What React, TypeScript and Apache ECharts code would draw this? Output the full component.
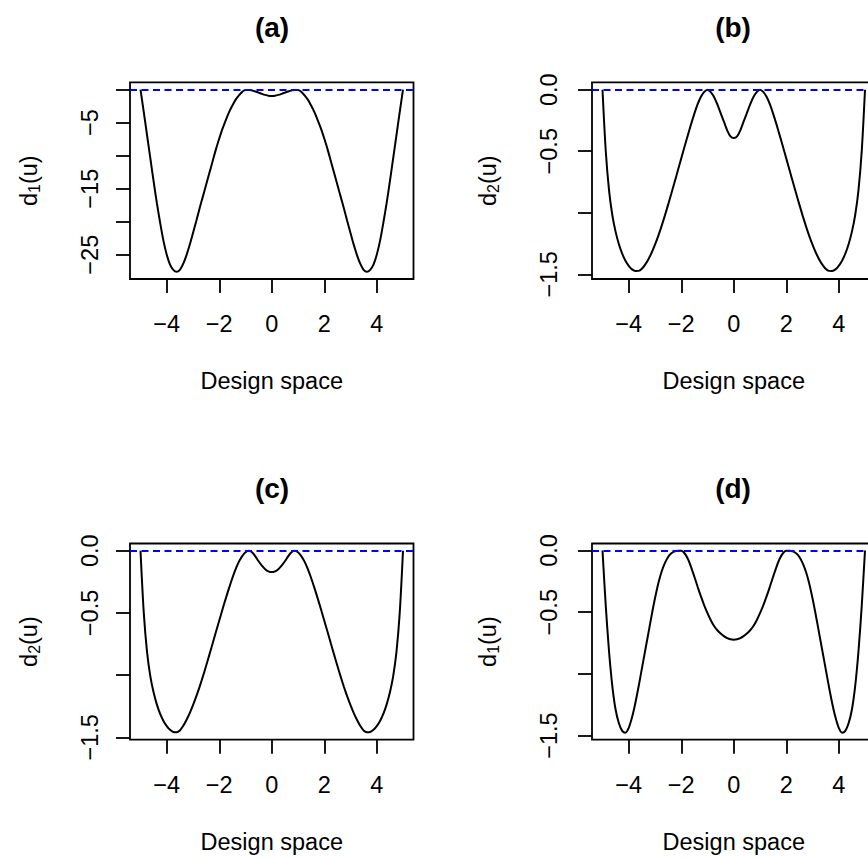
import React, { useEffect, useRef } from "react";
import * as echarts from "echarts";

const FONT = '"Liberation Sans", Arial, Helvetica, sans-serif';

// tick values and labels
const xTicks = [-4, -2, 0, 2, 4];
const yTicksA = [0, -5, -10, -15, -20, -25];
const yLabelsA = [-5, -15, -25];
const yTicksB = [0, -0.5, -1, -1.5];
const yLabelsB = [0, -0.5, -1.5];

const panelTitles = ["(a)", "(b)", "(c)", "(d)"];
const ySubscripts = ["1", "2", "2", "1"];
const xName = "Design space";

// design points u (shared by all panels)
const xs = [
  -5, -4.875, -4.75, -4.625, -4.5, -4.375, -4.25, -4.125, -4, -3.875, -3.75, -3.625, -3.5, -3.375, -3.25, -3.125, -3, -2.875, -2.75, -2.625,
  -2.5, -2.375, -2.25, -2.125, -2, -1.875, -1.75, -1.625, -1.5, -1.375, -1.25, -1.125, -1, -0.875, -0.75, -0.625, -0.5, -0.375, -0.25, -0.125,
  0,
  0.125, 0.25, 0.375, 0.5, 0.625, 0.75, 0.875, 1, 1.125, 1.25, 1.375, 1.5, 1.625, 1.75, 1.875, 2, 2.125, 2.25, 2.375, 2.5,
  2.625, 2.75, 2.875, 3, 3.125, 3.25, 3.375, 3.5, 3.625, 3.75, 3.875, 4, 4.125, 4.25, 4.375, 4.5, 4.625, 4.75, 4.875, 5,
];

// panel (a): d1(u)
const yA = [
  0, -3.4, -6.9, -10.4, -13.9, -17.2, -20.2, -22.9, -25.0, -26.5, -27.3, -27.6, -27.3, -26.4, -25.1, -23.5, -21.7, -19.9, -18.0, -16.2,
  -14.4, -12.6, -10.8, -9.0, -7.4, -5.9, -4.6, -3.4, -2.4, -1.5, -0.85, -0.33, -0.03, -0.03, -0.12, -0.27, -0.45, -0.63, -0.79, -0.91,
  -0.95,
  -0.91, -0.79, -0.63, -0.45, -0.27, -0.12, -0.03, -0.03, -0.33, -0.85, -1.5, -2.4, -3.4, -4.6, -5.9, -7.4, -9.0, -10.8, -12.6, -14.4,
  -16.2, -18.0, -19.9, -21.7, -23.5, -25.1, -26.4, -27.3, -27.6, -27.3, -26.5, -25.0, -22.9, -20.2, -17.2, -13.9, -10.4, -6.9, -3.4, 0,
];

// panel (b): d2(u)
const yB = [
  0, -0.5, -0.82, -1.02, -1.155, -1.255, -1.332, -1.39, -1.432, -1.46, -1.473, -1.472, -1.455, -1.421, -1.377, -1.323, -1.259, -1.187, -1.108, -1.023,
  -0.934, -0.842, -0.748, -0.653, -0.558, -0.464, -0.371, -0.28, -0.194, -0.118, -0.058, -0.018, 0, -0.02, -0.06, -0.12, -0.19, -0.26, -0.33, -0.38,
  -0.393,
  -0.38, -0.33, -0.26, -0.19, -0.12, -0.06, -0.02, 0, -0.018, -0.058, -0.118, -0.194, -0.28, -0.371, -0.464, -0.558, -0.653, -0.748, -0.842, -0.934,
  -1.023, -1.108, -1.187, -1.259, -1.323, -1.377, -1.421, -1.455, -1.472, -1.473, -1.46, -1.432, -1.39, -1.332, -1.255, -1.155, -1.02, -0.82, -0.5, 0,
];

// panel (c): d2(u)
const yC = [
  0, -0.5, -0.815, -1.01, -1.14, -1.237, -1.312, -1.368, -1.41, -1.44, -1.457, -1.459, -1.445, -1.409, -1.361, -1.305, -1.241, -1.171, -1.094, -1.012,
  -0.925, -0.835, -0.744, -0.652, -0.561, -0.471, -0.383, -0.299, -0.219, -0.148, -0.088, -0.043, -0.013, 0, -0.012, -0.045, -0.085, -0.12, -0.148, -0.166,
  -0.172,
  -0.166, -0.148, -0.12, -0.085, -0.045, -0.012, 0, -0.013, -0.043, -0.088, -0.148, -0.219, -0.299, -0.383, -0.471, -0.561, -0.652, -0.744, -0.835, -0.925,
  -1.012, -1.094, -1.171, -1.241, -1.305, -1.361, -1.409, -1.445, -1.459, -1.457, -1.44, -1.41, -1.368, -1.312, -1.237, -1.14, -1.01, -0.815, -0.5, 0,
];

// panel (d): d1(u)
const yD = [
  0, -0.45, -0.82, -1.1, -1.29, -1.4, -1.462, -1.477, -1.437, -1.352, -1.237, -1.102, -0.957, -0.812, -0.667, -0.522, -0.387, -0.267, -0.172, -0.102,
  -0.052, -0.022, -0.007, -0.001, -0.002, -0.022, -0.067, -0.134, -0.212, -0.294, -0.372, -0.444, -0.508, -0.565, -0.612, -0.646, -0.672, -0.694, -0.71, -0.719,
  -0.722,
  -0.719, -0.71, -0.694, -0.672, -0.646, -0.612, -0.565, -0.508, -0.444, -0.372, -0.294, -0.212, -0.134, -0.067, -0.022, -0.002, -0.001, -0.007, -0.022, -0.052,
  -0.102, -0.172, -0.267, -0.387, -0.522, -0.667, -0.812, -0.957, -1.102, -1.237, -1.352, -1.437, -1.477, -1.462, -1.4, -1.29, -1.1, -0.82, -0.45, 0,
];

const panelYs = [yA, yB, yC, yD];
const yRanges = [
  [-28.68, 1.12],
  [-1.538, 0.06],
  [-1.519, 0.058],
  [-1.533, 0.057],
];
const xRange = [-5.4, 5.4];

const grids = [
  { left: 130, top: 82.3, width: 283.5, height: 196.7 },
  { left: 592, top: 82.3, width: 283.5, height: 196.7 },
  { left: 130, top: 543.5, width: 283.5, height: 196.2 },
  { left: 592, top: 543.5, width: 283.5, height: 196.2 },
];
const titlePos = [
  [272, 27],
  [733, 27],
  [272, 488],
  [733, 488],
];

const minus = (s: string) => s.replace("-", "\u2212");

export default function App() {
  const ref = useRef<HTMLDivElement>(null);
  useEffect(() => {
    if (!ref.current) return;
    const chart = echarts.init(ref.current, null, { renderer: "svg" });
    const isRight = [false, true, false, true];
    const option: any = {
      animation: false,
      backgroundColor: "#ffffff",
      textStyle: { fontFamily: FONT },
      grid: grids.map((g) => ({
        ...g,
        show: true,
        borderColor: "#000",
        borderWidth: 1.8,
        backgroundColor: "transparent",
        containLabel: false,
        outerBoundsMode: "none",
      })),
      xAxis: grids.map((_, i) => ({
        type: "value",
        gridIndex: i,
        position: "bottom",
        min: xRange[0],
        max: xRange[1],
        axisLine: { show: false, onZero: false },
        splitLine: { show: false },
        axisTick: {
          show: true,
          inside: false,
          customValues: xTicks,
          length: 14,
          lineStyle: { color: "#000", width: 1.8 },
        },
        axisLabel: {
          customValues: xTicks,
          margin: 33,
          fontSize: 23.5,
          color: "#000",
          fontFamily: FONT,
          formatter: (v: number) => minus(String(v)),
        },
        name: xName,
        nameLocation: "middle",
        nameGap: i < 2 ? 89.5 : 90.5,
        nameMoveOverlap: false,
        nameTextStyle: { fontSize: 23.5, color: "#000", fontFamily: FONT },
      })),
      yAxis: grids.map((_, i) => ({
        type: "value",
        gridIndex: i,
        position: "left",
        min: yRanges[i][0],
        max: yRanges[i][1],
        axisLine: { show: false, onZero: false },
        splitLine: { show: false },
        axisTick: {
          show: true,
          inside: false,
          customValues: i === 0 ? yTicksA : yTicksB,
          length: 14,
          lineStyle: { color: "#000", width: 1.8 },
        },
        axisLabel: {
          customValues: i === 0 ? yLabelsA : yLabelsB,
          rotate: 90,
          margin: isRight[i] ? 31.5 : 28.5,
          fontSize: 23.5,
          color: "#000",
          fontFamily: FONT,
          formatter: (v: number) => (i === 0 ? minus(String(v)) : minus(v.toFixed(1))),
        },
        name: `{m|d}{s|${ySubscripts[i]}}{m|(u)}`,
        nameLocation: "middle",
        nameRotate: 90,
        nameGap: isRight[i] ? 90.5 : 87.5,
        nameMoveOverlap: false,
        nameTextStyle: {
          color: "#000",
          fontFamily: FONT,
          rich: {
            m: { fontSize: 23.5, lineHeight: 28, color: "#000", fontFamily: FONT },
            s: { fontSize: 16, lineHeight: 16, verticalAlign: "bottom", color: "#000", fontFamily: FONT },
          },
        },
      })),
      graphic: panelTitles.map((t, i) => ({
        type: "text",
        x: titlePos[i][0],
        y: titlePos[i][1],
        silent: true,
        style: {
          text: t,
          align: "center",
          verticalAlign: "middle",
          fontSize: 28,
          fontWeight: "bold",
          fontFamily: FONT,
          fill: "#000",
        },
      })),
      series: grids.map((_, i) => ({
        type: "line",
        xAxisIndex: i,
        yAxisIndex: i,
        data: xs.map((x, k) => [x, panelYs[i][k]]),
        showSymbol: false,
        smooth: 0.3,
        lineStyle: { color: "#000", width: 2 },
        silent: true,
        markLine: {
          silent: true,
          symbol: ["none", "none"],
          label: { show: false },
          lineStyle: { color: "#0000ff", type: [7, 4.5], width: 2 },
          data: [{ yAxis: 0 }],
          z: 5,
        },
      })),
    };
    chart.setOption(option);
    return () => chart.dispose();
  }, []);
  return (
    <div
      ref={ref}
      style={{ position: "absolute", left: 0, top: 0, width: 868, height: 858, background: "#fff" }}
    />
  );
}
